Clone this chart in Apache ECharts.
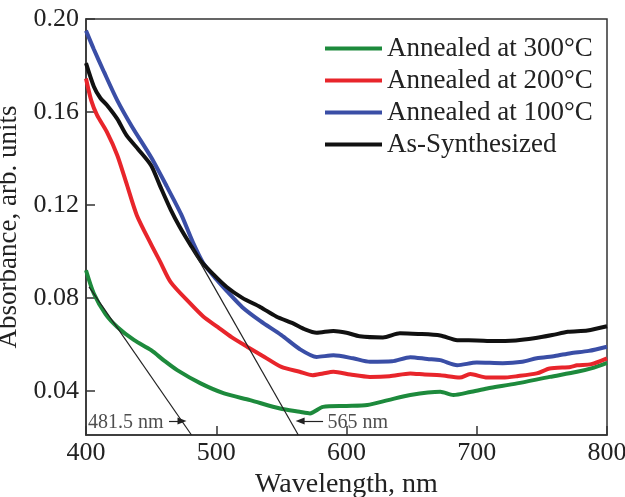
<!DOCTYPE html>
<html>
<head>
<meta charset="utf-8">
<script src="https://cdn.jsdelivr.net/npm/echarts@6/dist/echarts.min.js"></script>
<style>
  html, body { margin: 0; padding: 0; background: #fff; }
  #main { width: 625px; height: 497px; }
</style>
</head>
<body>
<div id="main"></div>
<script>
// absorbance spectra, [wavelength nm, absorbance]
var annealed300 = [[400,0.0919],[406,0.0819],[415,0.073],[424,0.0675],[437,0.0618],[450,0.0575],[460,0.053],[470,0.0489],[488,0.0432],[506,0.0389],[526,0.036],[549,0.0324],[564,0.031],[572,0.0303],[582,0.0331],[600,0.0335],[616,0.0339],[632,0.036],[649,0.0382],[672,0.0396],[682,0.0382],[695,0.0395],[708,0.041],[731,0.0432],[756,0.046],[777,0.0482],[790,0.050],[800,0.052]];
var annealed200 = [[400,0.1744],[404,0.165],[408.5,0.1586],[416,0.1514],[424,0.1414],[431.5,0.1285],[439,0.1156],[450,0.103],[457,0.0955],[465,0.0868],[480,0.0776],[490,0.072],[501,0.0675],[512,0.063],[524,0.0589],[537,0.0546],[550,0.0503],[564,0.0482],[574,0.0467],[582,0.0475],[590,0.0482],[603,0.047],[618,0.046],[633,0.0463],[649,0.0475],[660,0.047],[672,0.0467],[687,0.0457],[695,0.0472],[708,0.0457],[720,0.0457],[731,0.0463],[746,0.0475],[756,0.0496],[772,0.0503],[777,0.051],[788,0.0515],[800,0.054]];
var annealed100 = [[400,0.195],[406,0.187],[414,0.177],[424,0.165],[435,0.154],[450,0.1405],[462,0.128],[473,0.116],[482,0.104],[490,0.095],[500,0.088],[508,0.083],[520,0.076],[534,0.070],[550,0.064],[564,0.058],[577,0.0546],[590,0.0553],[605,0.054],[618,0.0525],[635,0.0527],[649,0.0545],[662,0.0537],[672,0.0532],[685,0.051],[700,0.0522],[720,0.0519],[735,0.0525],[746,0.054],[760,0.055],[772,0.0562],[786,0.0572],[800,0.059]];
var asSynthesized = [[400,0.181],[406,0.171],[411,0.166],[416,0.163],[424,0.157],[431,0.150],[440,0.144],[450,0.137],[457,0.128],[465,0.118],[472,0.1105],[480,0.103],[488,0.096],[498,0.090],[508,0.0847],[520,0.080],[534,0.076],[546,0.072],[559,0.069],[568,0.0665],[577,0.065],[590,0.0658],[600,0.065],[610,0.0635],[628,0.063],[641,0.0648],[655,0.0645],[672,0.0638],[685,0.0618],[700,0.0617],[713,0.0614],[730,0.0617],[744,0.0626],[758,0.064],[770,0.0654],[785,0.066],[800,0.0678]];

// band-gap tangent lines and their notes
var tangent1 = [[402.3,0.0847],[481,0.021]];
var tangent2 = [[481.4,0.1014],[563,0.021]];
var arrow1 = [[463.7,0.027],[473.7,0.027]];
var arrow2 = [[582,0.027],[564.4,0.027]];
var notes = [{name:'481.5 nm', value:[401.5,0.0262]},{name:'565 nm', value:[585.5,0.0262]}];

var yTicks = [0.04,0.08,0.12,0.16,0.20];

var FONT = '"Liberation Serif", "Times New Roman", serif';

var myChart = echarts.init(document.getElementById('main'));

function curve(name, data, color) {
    return {
        name: name,
        type: 'line',
        data: data,
        showSymbol: false,
        symbol: 'none',
        smooth: 0.25,
        lineStyle: {color: color, width: 4},
        itemStyle: {color: color},
        z: 3
    };
}

function guide(data) {
    return {
        type: 'line',
        data: data,
        showSymbol: false,
        symbol: 'none',
        lineStyle: {color: '#222', width: 1.2},
        silent: true,
        z: 4
    };
}

function arrowLine(pts) {
    return {
        type: 'line',
        data: [],
        silent: true,
        markLine: {
            silent: true,
            symbol: ['none', 'triangle'],
            symbolSize: [7, 9],
            label: {show: false},
            lineStyle: {color: '#222', width: 1.2, type: 'solid'},
            data: [[{coord: pts[0]}, {coord: pts[1]}]]
        }
    };
}

var option = {
    animation: false,
    backgroundColor: '#fff',
    textStyle: {fontFamily: FONT},
    grid: {
        left: 86, right: 18, top: 19, bottom: 62,
        outerBoundsMode: 'none',
        containLabel: false,
        show: true, borderColor: '#333', borderWidth: 1.5
    },
    legend: {
        data: ['Annealed at 300°C', 'Annealed at 200°C', 'Annealed at 100°C', 'As-Synthesized'],
        orient: 'vertical',
        left: 325,
        top: 35,
        padding: 0,
        itemGap: 5,
        itemWidth: 57,
        itemHeight: 4,
        icon: 'rect',
        textStyle: {fontFamily: FONT, fontSize: 27, color: '#222', padding: [0, 0, 0, 0]}
    },
    xAxis: {
        type: 'value',
        min: 400, max: 800, interval: 100,
        name: 'Wavelength, nm',
        nameLocation: 'middle',
        nameGap: 33,
        nameTextStyle: {fontFamily: FONT, fontSize: 28, color: '#222'},
        axisLine: {lineStyle: {color: '#333', width: 1.5}},
        axisTick: {inside: true, length: 9, lineStyle: {color: '#333', width: 1.5}},
        axisLabel: {fontFamily: FONT, fontSize: 26, color: '#222', margin: 5},
        splitLine: {show: false}
    },
    yAxis: {
        type: 'value',
        min: 0.021, max: 0.2,
        name: 'Absorbance, arb. units',
        nameLocation: 'middle',
        nameGap: 49,
        nameTextStyle: {fontFamily: FONT, fontSize: 27, color: '#222'},
        axisLine: {lineStyle: {color: '#333', width: 1.5}},
        axisTick: {inside: true, length: 9, customValues: yTicks, lineStyle: {color: '#333', width: 1.5}},
        axisLabel: {
            fontFamily: FONT, fontSize: 26, color: '#222', margin: 7,
            customValues: yTicks,
            formatter: function (v) { return v.toFixed(2); }
        },
        splitLine: {show: false}
    },
    series: [
        curve('Annealed at 300°C', annealed300, '#1d8a3c'),
        curve('Annealed at 200°C', annealed200, '#e8252b'),
        curve('Annealed at 100°C', annealed100, '#3a4ea6'),
        curve('As-Synthesized', asSynthesized, '#111111'),
        guide(tangent1),
        guide(tangent2),
        arrowLine(arrow1),
        arrowLine(arrow2),
        {
            type: 'scatter',
            data: notes,
            symbolSize: 0,
            silent: true,
            label: {
                show: true,
                position: 'right',
                distance: 0,
                formatter: '{b}',
                fontFamily: FONT,
                fontSize: 20,
                color: '#222'
            },
            z: 5
        }
    ]
};

myChart.setOption(option);

window.onresize = function () {
    myChart.resize();
};
</script>
</body>
</html>
